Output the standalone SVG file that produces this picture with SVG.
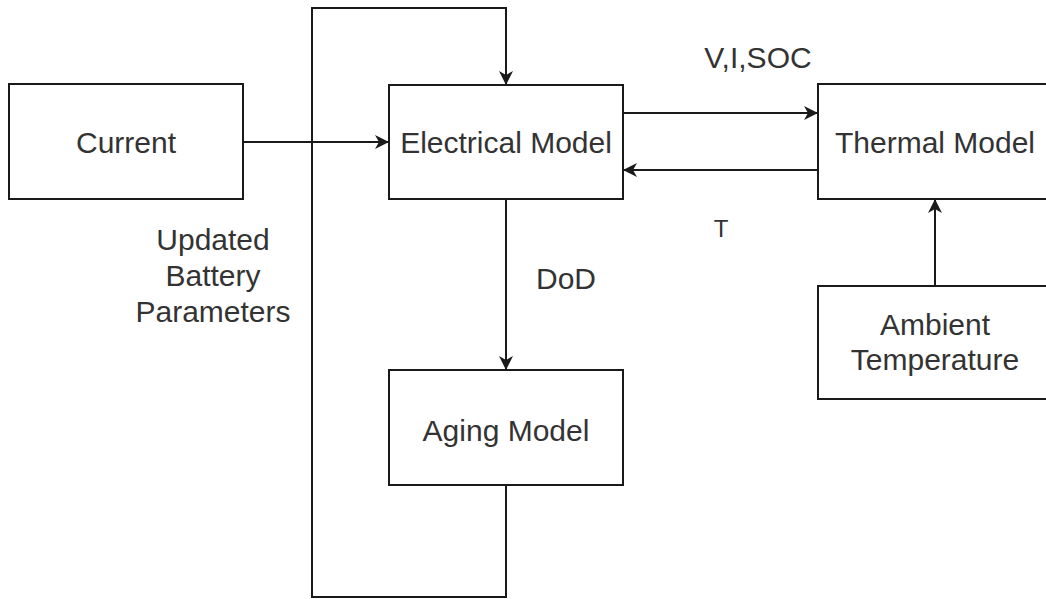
<svg xmlns="http://www.w3.org/2000/svg" width="1046" height="599" viewBox="0 0 1046 599">
<style>
.box{fill:#fff;stroke:#1a1a1a;stroke-width:2}
.ln{fill:none;stroke:#1a1a1a;stroke-width:2}
text{font-family:"Liberation Sans",Arial,sans-serif;font-size:30px;fill:#333;text-anchor:middle}
.sm{font-size:24px}
</style>
<defs>
<marker id="ah" viewBox="0 0 14 14" refX="13" refY="7" markerWidth="14" markerHeight="14" markerUnits="userSpaceOnUse" orient="auto">
<path d="M0,0 L14,7 L0,14 L4,7 Z" fill="#1a1a1a"/>
</marker>
</defs>
<rect width="1046" height="599" fill="#fff"/>
<g id="connectors">
<path class="ln" d="M243,142 H388" marker-end="url(#ah)"/>
<path class="ln" d="M623,113 H817" marker-end="url(#ah)"/>
<path class="ln" d="M818,170 H624" marker-end="url(#ah)"/>
<path class="ln" d="M935,286 V200" marker-end="url(#ah)"/>
<path class="ln" d="M506,199 V369" marker-end="url(#ah)"/>
<path class="ln" d="M506,485 V597 H312 V8 H506 V84" marker-end="url(#ah)"/>
<text x="758" y="68">V,I,SOC</text>
<text class="sm" x="721" y="237">T</text>
<text x="566" y="289">DoD</text>
<text x="213" y="250">Updated</text>
<text x="213" y="286">Battery</text>
<text x="213" y="322">Parameters</text>
</g>
<g id="current"><rect class="box" x="9" y="84" width="234" height="115"/><text x="126" y="153">Current</text></g>
<g id="electrical"><rect class="box" x="389" y="85" width="234" height="114"/><text x="506" y="153">Electrical Model</text></g>
<g id="thermal"><rect class="box" x="818" y="84" width="234" height="115"/><text x="935" y="153">Thermal Model</text></g>
<g id="ambient"><rect class="box" x="818" y="286" width="234" height="113"/><text x="935" y="335">Ambient</text><text x="935" y="370">Temperature</text></g>
<g id="aging"><rect class="box" x="389" y="370" width="234" height="115"/><text x="506" y="441">Aging Model</text></g>
</svg>
